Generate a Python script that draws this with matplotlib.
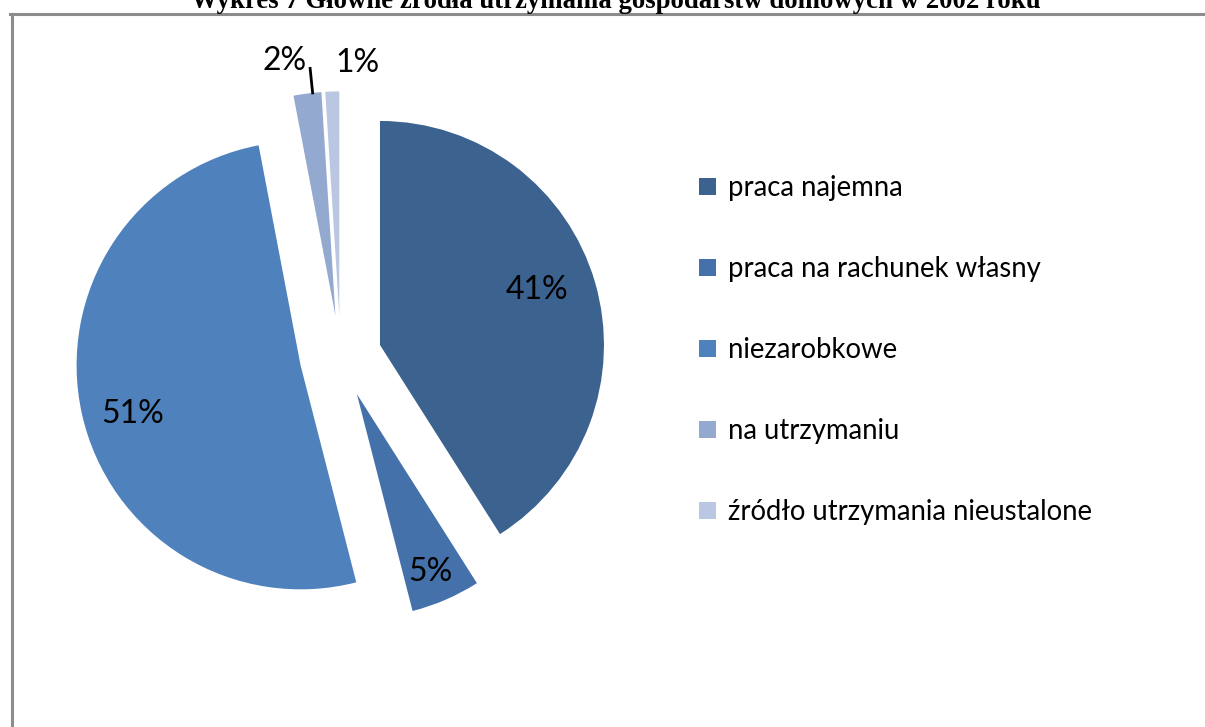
import numpy as np
import matplotlib.pyplot as plt
from matplotlib.lines import Line2D

title = "Wykres 7 Główne źródła utrzymania gospodarstw domowych w 2002 roku"
categories = ["praca najemna", "praca na rachunek własny", "niezarobkowe",
              "na utrzymaniu", "źródło utrzymania nieustalone"]
shares = [41, 5, 51, 2, 1]
colors = ["#3C6290", "#4571AB", "#4F81BD", "#93A9CF", "#B9C7E3"]

# label placement (fraction of radius, angle nudge in degrees)
label_dist = [0.74, 0.86, 0.78, 1.16, 1.13]
label_nudge = [3, -1, 3.5, 4, -6]

W, H = 1205, 727
fig = plt.figure(figsize=(W / 100, H / 100), dpi=100)
ax = fig.add_axes([0, 0, 1, 1])

R = 224
center = (340.6, H - 356.4)
# explode is in data units here, so scale it by the radius
wedges, _ = ax.pie(shares, colors=colors, startangle=90, counterclock=False,
                   explode=[0.183 * R] * len(shares), radius=R, center=center,
                   wedgeprops=dict(linewidth=0))
ax.set_xlim(0, W)
ax.set_ylim(0, H)
ax.set_aspect("auto")
ax.axis("off")

for w, v, d, nd in zip(wedges, shares, label_dist, label_nudge):
    mid = np.deg2rad((w.theta1 + w.theta2) / 2 + nd)
    cx, cy = w.center
    ax.text(cx + d * R * np.cos(mid), cy + d * R * np.sin(mid), f"{v}%",
            ha="center", va="center", fontsize=23, family="Lato", color="black")

# leader line for the 2% slice
w = wedges[3]
mid = np.deg2rad((w.theta1 + w.theta2) / 2 - 1.35)
cx, cy = w.center
ax.plot([cx + 1.0 * R * np.cos(mid), cx + 1.11 * R * np.cos(mid)],
        [cy + 1.0 * R * np.sin(mid), cy + 1.11 * R * np.sin(mid)],
        color="black", lw=2)

ax.legend(wedges, categories, loc="upper left", bbox_to_anchor=(699 / W, 1 - 175 / H),
          frameon=False, prop=dict(family="Lato", size=19.8),
          handlelength=0.6, handleheight=0.6, handletextpad=0.45,
          labelspacing=2.0, borderpad=0, borderaxespad=0)

# outer frame
fig.add_artist(Line2D([10 / W, 1], [1 - 13.5 / H, 1 - 13.5 / H], color="#8C8C8C", lw=2.2))
fig.add_artist(Line2D([11.5 / W, 11.5 / W], [0, 1 - 13.5 / H], color="#8C8C8C", lw=2.2))

fig.text(616 / W, 1 - 8 / H, title, ha="center", va="baseline",
         family="Liberation Serif", weight="bold", fontsize=19.3)

fig.savefig("out.png", dpi=100)
